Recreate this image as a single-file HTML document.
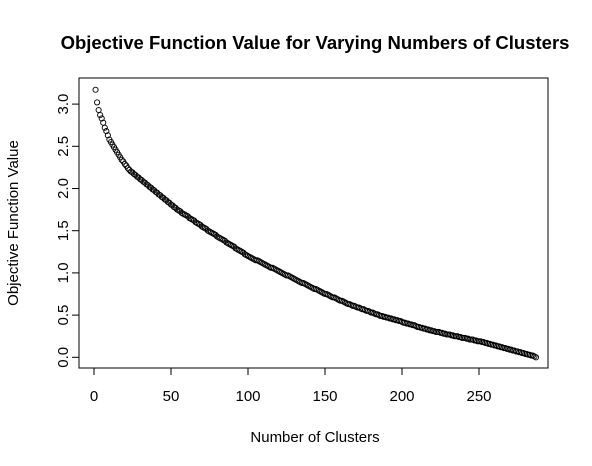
<!DOCTYPE html>
<html><head><meta charset="utf-8"><style>
html,body{margin:0;padding:0;background:#fff;}
svg{display:block;font-family:"Liberation Sans",Arial,sans-serif;}
</style></head><body>
<svg id="chart" width="592" height="466" viewBox="0 0 592 466">
<text x="315" y="49" text-anchor="middle" font-size="18.5" font-weight="bold">Objective Function Value for Varying Numbers of Clusters</text>
<rect x="79" y="78" width="469" height="290" fill="none" stroke="#000" stroke-width="1"/>
<g id="xaxis"></g>
<g id="yaxis"></g>
<text x="315" y="442" text-anchor="middle" font-size="15">Number of Clusters</text>
<text x="0" y="0" transform="translate(18,223) rotate(-90)" text-anchor="middle" font-size="15">Objective Function Value</text>
<g id="points"></g>
</svg>
<script>
const xTicks = [0, 50, 100, 150, 200, 250];
const yTicks = [0.0, 0.5, 1.0, 1.5, 2.0, 2.5, 3.0];
const yTickLabels = ["0.0","0.5","1.0","1.5","2.0","2.5","3.0"];
const objectiveValues = [
3.17,3.02,2.93,2.87,2.83,2.78,2.72,2.68,2.63,2.58,
2.55,2.52,2.49,2.46,2.43,2.40,2.37,2.34,2.32,2.29,2.27,2.24,2.22,
2.20,2.19,2.17,2.16,2.14,2.13,2.11,2.10,2.08,2.07,2.05,2.04,2.02,2.01,1.99,1.98,1.96,1.95,1.93,1.92,
1.90,1.89,1.87,1.86,1.84,1.83,1.81,1.80,1.78,1.77,1.75,1.74,1.73,1.71,1.70,1.69,1.68,
1.67,1.65,1.64,1.63,1.62,1.60,1.59,1.58,1.57,1.55,1.54,1.53,1.52,1.50,1.49,1.48,1.47,
1.46,1.45,1.43,1.42,1.41,1.40,1.39,1.38,1.36,1.35,1.34,1.33,1.32,1.31,1.29,1.28,1.27,1.26,1.25,1.24,1.22,1.21,1.20,
1.19,1.18,1.17,1.16,1.15,1.15,1.14,1.13,1.12,1.11,1.10,1.09,1.08,1.07,1.06,1.06,1.05,1.04,1.03,1.02,
1.01,1.00,0.99,0.98,0.97,0.97,0.96,0.95,0.94,0.93,0.92,0.91,0.90,0.89,0.88,0.88,0.87,0.86,0.85,0.84,
0.83,0.82,0.81,0.81,0.80,0.79,0.78,0.77,0.76,0.75,0.75,0.74,0.73,
0.72,0.71,0.71,0.70,0.69,0.68,0.67,0.67,0.66,0.65,0.64,0.63,0.63,0.62,
0.61,0.61,0.60,0.59,0.59,0.58,0.57,0.57,0.56,0.55,0.55,0.54,0.53,0.53,0.52,0.51,0.51,0.50,
0.49,0.49,0.48,0.48,0.47,0.47,0.46,0.46,0.45,0.45,0.44,0.44,0.43,0.43,0.42,
0.41,0.41,0.40,0.40,0.39,0.39,0.38,0.38,0.37,0.36,0.36,0.35,0.35,0.34,0.34,0.33,0.33,0.32,
0.32,0.31,0.31,0.30,0.30,0.30,0.29,0.29,0.28,0.28,0.27,0.27,0.27,0.26,0.26,0.25,0.25,
0.25,0.24,0.24,0.23,0.23,0.23,0.22,0.22,0.21,0.21,0.21,0.20,0.20,0.19,0.19,
0.19,0.18,0.18,0.17,0.17,0.16,0.16,0.15,0.15,0.14,0.14,0.13,0.13,0.12,0.12,
0.11,0.11,0.10,0.10,0.09,0.09,0.08,0.08,0.07,0.07,
0.06,0.06,0.05,0.05,0.04,0.04,0.03,0.03,0.02,0.02,0.01,0.00
];
const NS = "http://www.w3.org/2000/svg";
function xs(v){ return 94 + v * 1.54; }
function ys(v){ return 357.3 - v * 84.4; }
const xg = document.getElementById('xaxis');
const yg = document.getElementById('yaxis');
const pg = document.getElementById('points');
function mk(tag, attrs, parent){ const e = document.createElementNS(NS, tag); for (const k in attrs) e.setAttribute(k, attrs[k]); parent.appendChild(e); return e; }
mk('line', {x1: xs(xTicks[0]), x2: xs(xTicks[xTicks.length-1]), y1: 368, y2: 368, stroke: '#000'}, xg);
xTicks.forEach(t => {
  const l = mk('line', {x1: xs(t), x2: xs(t), y1: 368, y2: 375, stroke: '#000'}, xg);
  
  
  const tx = mk('text', {x: xs(t), y: 401, 'text-anchor': 'middle', 'font-size': '15'}, xg);
  tx.textContent = String(t);
  
  
});
mk('line', {x1: 79, x2: 79, y1: ys(yTicks[0]), y2: ys(yTicks[yTicks.length-1]), stroke: '#000'}, yg);
yTicks.forEach((t, i) => {
  const l = mk('line', {x1: 72, x2: 79, y1: ys(t), y2: ys(t), stroke: '#000'}, yg);
  
  
  const tx = mk('text', {x: 0, y: 0, transform: 'translate(68,' + ys(t) + ') rotate(-90)', 'text-anchor': 'middle', 'font-size': '15'}, yg);
  tx.textContent = yTickLabels[i];
  
  
});
objectiveValues.forEach((v, i) => {
  const c = mk('circle', {cx: xs(i + 1), cy: ys(v), r: 2.6, fill: 'none', stroke: '#000', 'stroke-width': '0.9'}, pg);
  
  
});
</script>
</body></html>
